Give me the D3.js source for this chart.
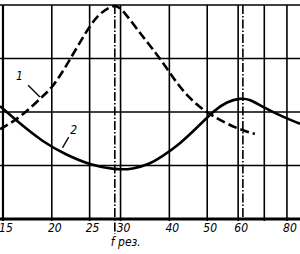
<!DOCTYPE html>
<html>
<head>
<meta charset="utf-8">
<script src="https://cdn.jsdelivr.net/npm/d3@7"></script>
<style>
  body { margin: 0; background: #fff; }
  svg { display: block; }
  .tick-label { font-family: "DejaVu Sans Condensed", "DejaVu Sans", sans-serif; font-style: italic; font-size: 12px; }
</style>
</head>
<body>
<div class="chart"></div>
<script>
// frequency grid + labels (log axis)
var gridFreqs = [15, 20, 25, 30, 40, 50, 60, 70, 80];
var tickLabels = [15, 20, 25, 30, 40, 50, 60, 80];
var gridLevels = [0, 1, 2, 3, 4];

// curve 1 (dashed)
var curve1F = [14.74, 16.59, 18.99, 20.14, 21.88, 24.76, 26.57, 28.18, 29.19, 30.42, 34.23, 36.09, 39.43, 43.32, 49.32, 56.15, 61.34, 66.22];
var curve1V = [1.68, 1.89, 2.30, 2.47, 2.88, 3.57, 3.85, 3.96, 4.00, 3.91, 3.40, 3.20, 2.82, 2.37, 2.00, 1.78, 1.66, 1.59];

// curve 2 (solid)
var curve2F = [14.74, 16.59, 18.99, 21.62, 25.05, 29.02, 32.27, 35.67, 37.84, 42.57, 47.87, 52.32, 56.15, 60.61, 64.29, 69.41, 78.07, 86.4];
var curve2V = [2.11, 1.78, 1.44, 1.21, 1.01, 0.92, 0.93, 1.03, 1.14, 1.40, 1.76, 2.04, 2.19, 2.26, 2.24, 2.09, 1.91, 1.78];

// resonance markers (dash-dot)
var resFreqs = [29.0, 61.7];

var svgWidth = 300;
var svgHeight = 254;

var svg = d3.select(".chart")
    .append("svg")
    .attr("width", svgWidth)
    .attr("height", svgHeight);

var x = d3.scaleLog()
    .domain([14.74, 86.4])
    .range([0, 300]);

var y = d3.scaleLinear()
    .domain([0, 4])
    .range([219, 5]);

// grid
svg.selectAll(".vgrid")
    .data(gridFreqs)
    .enter()
    .append("line")
    .attr("x1", d => x(d))
    .attr("x2", d => x(d))
    .attr("y1", y(4))
    .attr("y2", y(0) + 2)
    .attr("stroke", "#000")
    .attr("stroke-width", d => d == 15 ? 2.2 : 1.6);

svg.selectAll(".hgrid")
    .data(gridLevels)
    .enter()
    .append("line")
    .attr("x1", 0)
    .attr("x2", svgWidth)
    .attr("y1", d => y(d))
    .attr("y2", d => y(d))
    .attr("stroke", "#000")
    .attr("stroke-width", d => d == 0 ? 3 : 1.5);

// resonance lines
svg.selectAll(".res")
    .data(resFreqs)
    .enter()
    .append("line")
    .attr("x1", d => x(d))
    .attr("x2", d => x(d))
    .attr("y1", y(4))
    .attr("y2", (d, i) => i == 0 ? 234 : y(0))
    .attr("stroke", "#000")
    .attr("stroke-width", 1.6)
    .attr("stroke-dasharray", "9,2,1.5,2");

var line = d3.line()
    .x(d => x(d[0]))
    .y(d => y(d[1]))
    .curve(d3.curveBasis);

svg.append("path")
    .datum(d3.zip(curve1F, curve1V))
    .attr("d", line)
    .attr("fill", "none")
    .attr("stroke", "#000")
    .attr("stroke-width", 2.6)
    .attr("stroke-dasharray", "9,4");

svg.append("path")
    .datum(d3.zip(curve2F, curve2V))
    .attr("d", line)
    .attr("fill", "none")
    .attr("stroke", "#000")
    .attr("stroke-width", 2.6);

// tick labels
svg.selectAll(".tl")
    .data(tickLabels)
    .enter()
    .append("text")
    .attr("class", "tick-label")
    .attr("x", d => x(d) + 3)
    .attr("y", 232)
    .attr("text-anchor", "middle")
    .text(d => d);

svg.append("text")
    .attr("class", "tick-label")
    .attr("x", x(29.0) - 4)
    .attr("y", 246)
    .text("f рез.");

// curve labels with leaders
svg.append("text")
    .attr("class", "tick-label")
    .attr("font-size", 14)
    .attr("x", x(16.2))
    .attr("y", y(2.6))
    .text("1");

svg.append("line")
    .attr("x1", x(17.4)).attr("y1", y(2.5))
    .attr("x2", x(18.65)).attr("y2", y(2.28))
    .attr("stroke", "#000").attr("stroke-width", 1.3);

svg.append("text")
    .attr("class", "tick-label")
    .attr("font-size", 14)
    .attr("x", x(22.3))
    .attr("y", y(1.59))
    .text("2");

svg.append("line")
    .attr("x1", x(22.1)).attr("y1", y(1.53))
    .attr("x2", x(21.3)).attr("y2", y(1.33))
    .attr("stroke", "#000").attr("stroke-width", 1.3);
</script>
</body>
</html>
